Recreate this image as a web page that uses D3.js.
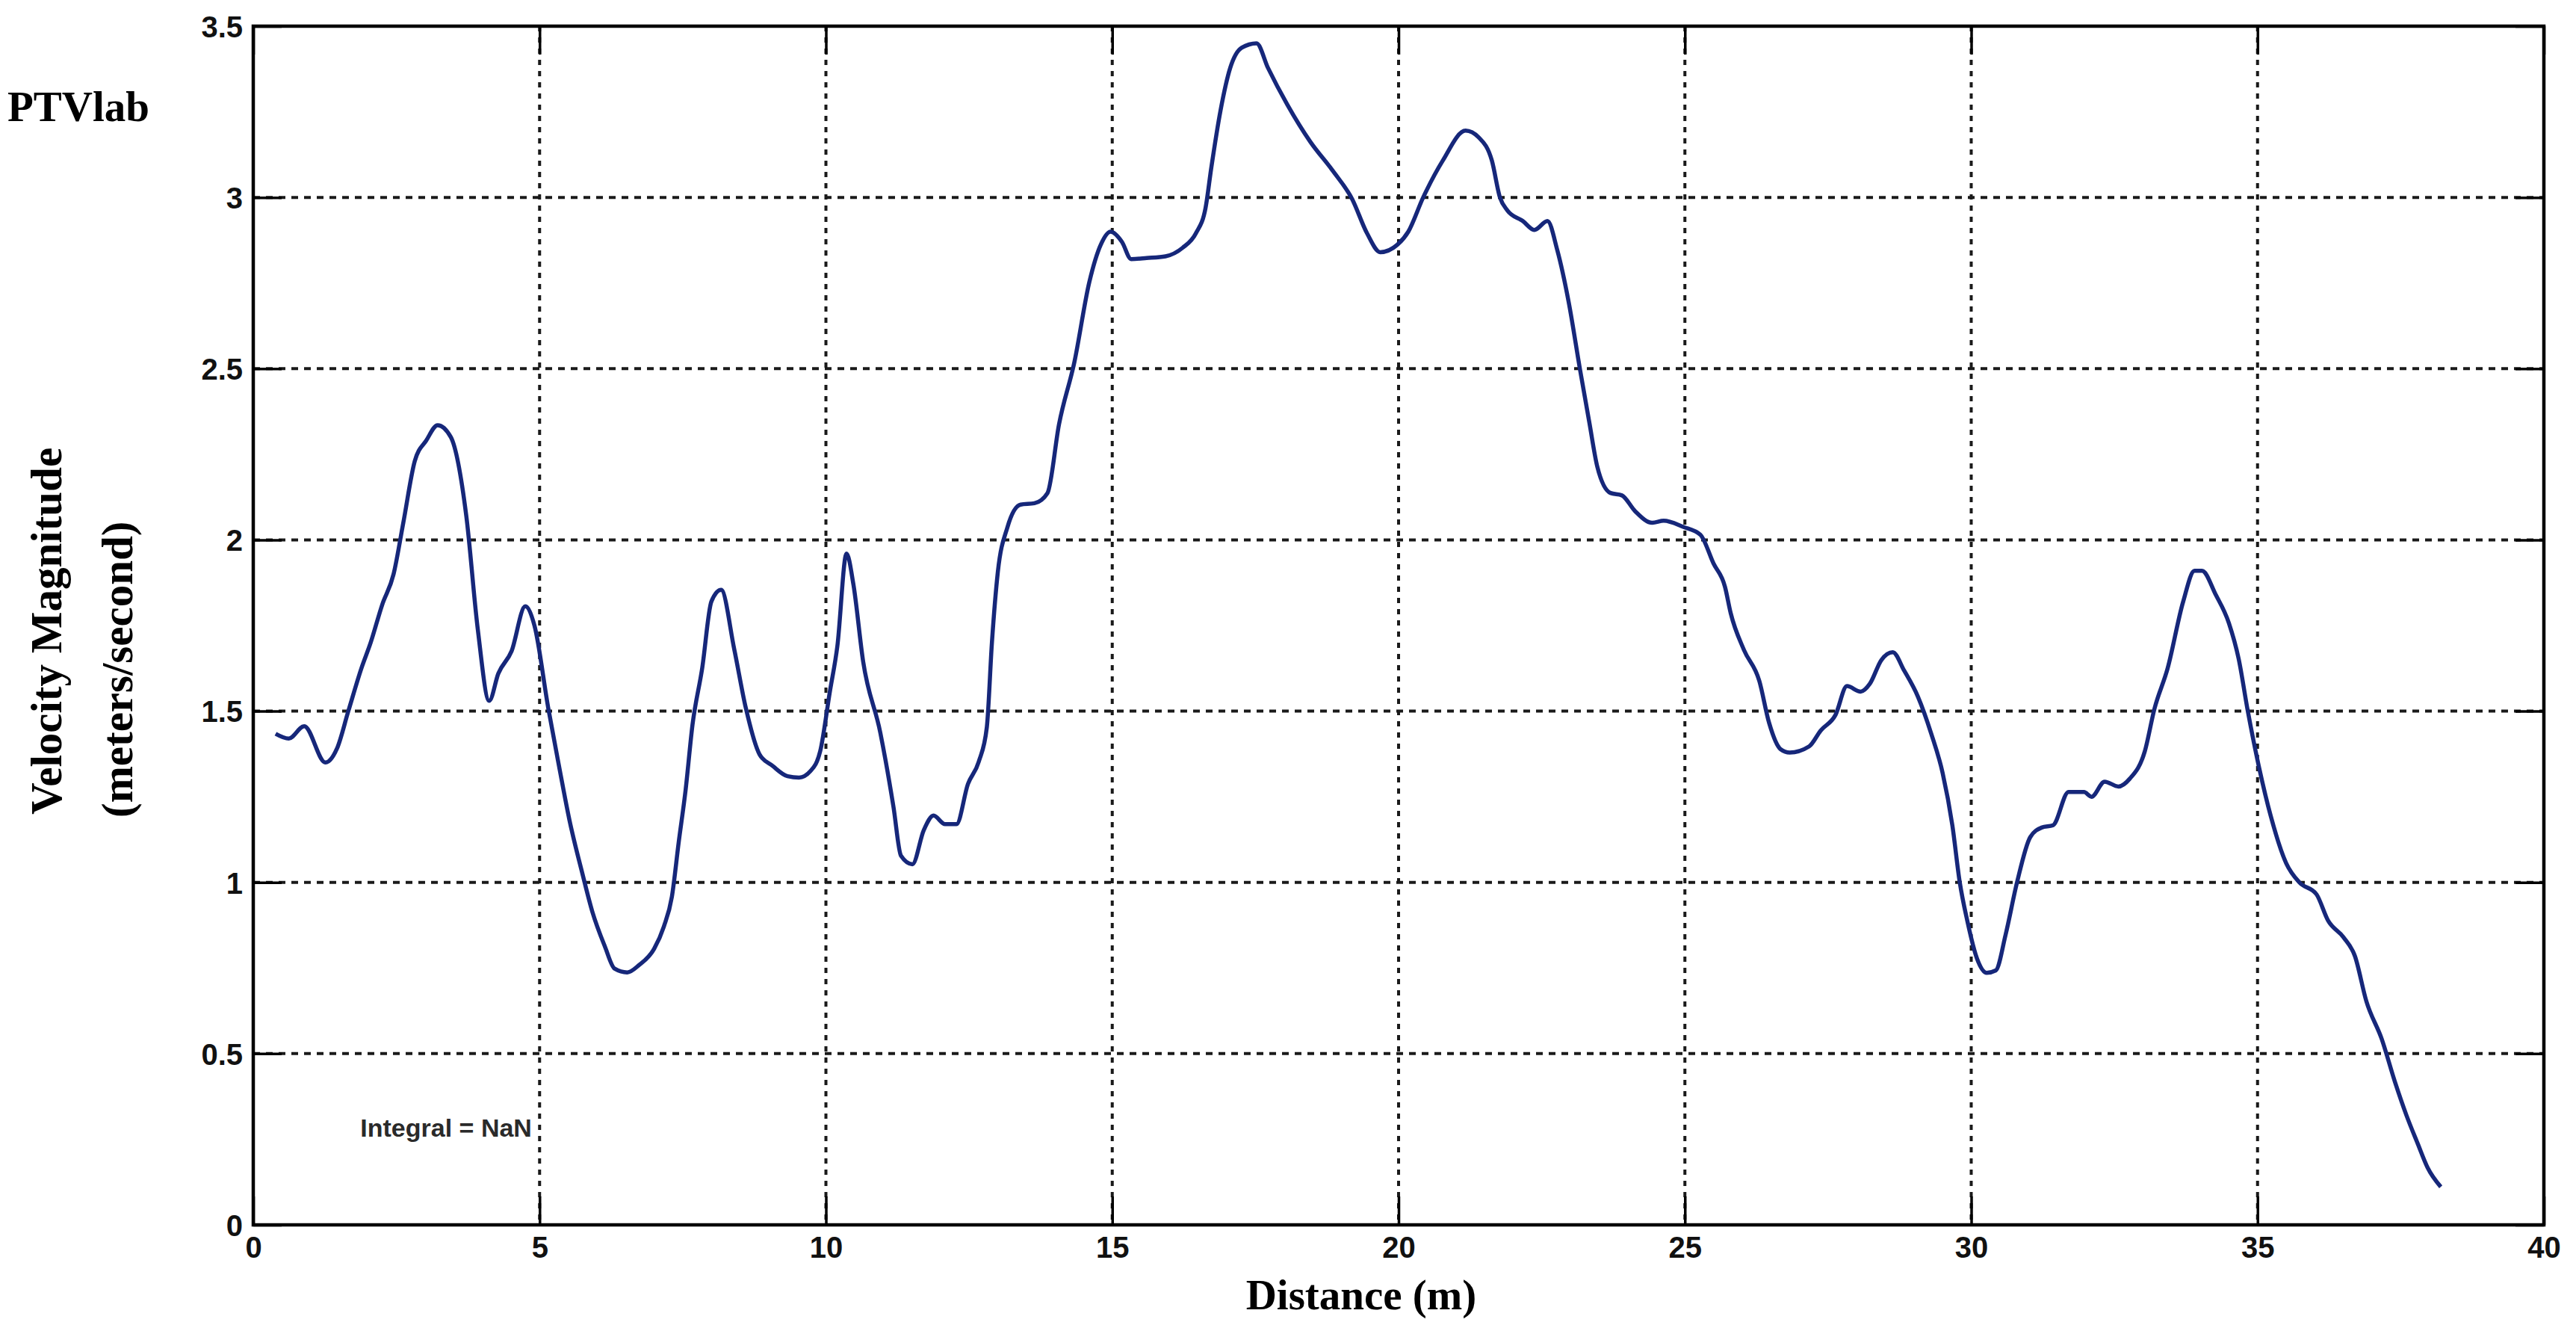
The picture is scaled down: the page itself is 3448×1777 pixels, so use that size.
<!DOCTYPE html>
<html>
<head>
<meta charset="utf-8">
<script src="https://d3js.org/d3.v7.min.js"></script>
<style>
  body { margin: 0; background: #fff; }
  .tick-label { font-family: 'Liberation Sans Narrow', 'Arial Narrow', 'Liberation Sans', sans-serif; font-weight: bold; font-size: 40px; fill: #111; }
  .title { font-family: 'Liberation Serif', 'Times New Roman', serif; font-weight: bold; fill: #000; }
</style>
</head>
<body>
<div id="velocity-plot"></div>
<script>
// distance along the transect (m)
var distance = [
  0.39, 0.62, 0.89, 1.26, 1.46, 1.66, 1.89, 2.05, 2.25, 2.45, 2.62, 2.82, 3.02, 3.22, 3.45, 3.72, 3.92, 4.12, 4.28, 4.51,
  4.75, 4.91, 5.15, 5.35, 5.52, 5.75, 5.92, 6.14, 6.31, 6.53, 6.74, 7.0, 7.17, 7.31, 7.43, 7.55, 7.67, 7.84, 8.0, 8.17,
  8.4, 8.6, 8.84, 9.07, 9.33, 9.53, 9.73, 9.9, 10.07, 10.2, 10.36, 10.48, 10.65, 10.95, 11.18, 11.31, 11.51, 11.71, 11.88, 12.08,
  12.28, 12.48, 12.67, 12.81, 12.9, 13.0, 13.17, 13.4, 13.64, 13.87, 14.07, 14.34, 14.6, 14.8, 14.97, 15.17, 15.33, 15.6, 15.93, 16.23,
  16.46, 16.63, 16.73, 16.89, 17.06, 17.26, 17.52, 17.72, 18.06, 18.46, 18.85, 19.19, 19.45, 19.68, 19.98, 20.17, 20.43, 20.77, 21.17, 21.4,
  21.63, 21.77, 21.9, 22.17, 22.37, 22.6, 22.77, 22.97, 23.17, 23.33, 23.47, 23.7, 23.9, 24.13, 24.43, 24.63, 24.97, 25.27, 25.5, 25.7,
  25.8, 26.03, 26.3, 26.47, 26.67, 26.83, 27.17, 27.37, 27.63, 27.83, 28.07, 28.23, 28.43, 28.63, 28.83, 29.07, 29.3, 29.5, 29.67, 29.8,
  29.93, 30.1, 30.27, 30.43, 30.6, 30.8, 31.03, 31.23, 31.43, 31.7, 31.97, 32.1, 32.33, 32.57, 32.77, 33.03, 33.2, 33.43, 33.7, 33.9,
  34.03, 34.27, 34.5, 34.67, 34.83, 35.03, 35.23, 35.5, 35.73, 36.03, 36.23, 36.5, 36.7, 36.9, 37.17, 37.4, 37.6, 37.8, 37.97, 38.2
];

// velocity magnitude (m/s)
var velocity = [
  1.434, 1.42, 1.456, 1.35, 1.39, 1.50, 1.626, 1.70, 1.81, 1.90, 2.05, 2.23, 2.29, 2.335, 2.30, 2.07, 1.74, 1.53, 1.61, 1.675,
  1.806, 1.75, 1.51, 1.33, 1.183, 1.024, 0.915, 0.813, 0.748, 0.737, 0.759, 0.806, 0.871, 0.958, 1.118, 1.27, 1.46, 1.626, 1.82, 1.854,
  1.68, 1.51, 1.374, 1.34, 1.31, 1.306, 1.325, 1.383, 1.558, 1.69, 1.96, 1.87, 1.645, 1.437, 1.22, 1.078, 1.053, 1.153, 1.195, 1.17,
  1.17, 1.287, 1.353, 1.453, 1.703, 1.903, 2.037, 2.103, 2.107, 2.137, 2.337, 2.52, 2.753, 2.862, 2.90, 2.87, 2.82, 2.823, 2.828, 2.853,
  2.895, 2.97, 3.087, 3.253, 3.378, 3.437, 3.45, 3.378, 3.27, 3.162, 3.078, 2.995, 2.895, 2.84, 2.862, 2.90, 3.0, 3.107, 3.195, 3.175,
  3.107, 3.0, 2.962, 2.931, 2.905, 2.931, 2.847, 2.695, 2.496, 2.344, 2.214, 2.137, 2.13, 2.084, 2.05, 2.056, 2.038, 2.015, 1.931, 1.863,
  1.786, 1.679, 1.588, 1.466, 1.389, 1.379, 1.397, 1.443, 1.489, 1.573, 1.557, 1.58, 1.649, 1.672, 1.618, 1.542, 1.435, 1.32, 1.167, 1.0,
  0.889, 0.778, 0.736, 0.743, 0.847, 1.0, 1.132, 1.16, 1.167, 1.264, 1.264, 1.25, 1.294, 1.28, 1.303, 1.382, 1.507, 1.625, 1.819, 1.91,
  1.91, 1.84, 1.757, 1.653, 1.5, 1.333, 1.194, 1.056, 1.0, 0.965, 0.889, 0.84, 0.785, 0.653, 0.542, 0.417, 0.32, 0.236, 0.167, 0.111
];

var xTicks = [0, 5, 10, 15, 20, 25, 30, 35, 40];
var yTicks = [0, 0.5, 1, 1.5, 2, 2.5, 3, 3.5];
var xTickLabels = ["0", "5", "10", "15", "20", "25", "30", "35", "40"];
var yTickLabels = ["0", "0.5", "1", "1.5", "2", "2.5", "3", "3.5"];

var xTitle = "Distance (m)";
var yTitle1 = "Velocity Magnitude";
var yTitle2 = "(meters/second)";
var tag = "PTVlab";
var note = "Integral = NaN";

function velocityChart() {
    var svgWidth = 3448, svgHeight = 1777;
    var margin = { top: 35, right: 43, bottom: 138, left: 339 };
    var width = svgWidth - margin.left - margin.right;
    var height = svgHeight - margin.top - margin.bottom;

    var root = d3.select("#velocity-plot").append("svg")
        .attr("width", svgWidth)
        .attr("height", svgHeight)
        .style("display", "block");

    root.append("rect")
        .attr("width", svgWidth)
        .attr("height", svgHeight)
        .attr("fill", "#fff");

    var svg = root.append("g")
        .attr("transform", "translate(" + margin.left + "," + margin.top + ")");

    var x = d3.scaleLinear().domain([0, 40]).range([0, width]);
    var y = d3.scaleLinear().domain([0, 3.5]).range([height, 0]);

    // dotted grid (matlab style)
    svg.append("g")
        .attr("class", "grid")
        .selectAll("line")
        .data(xTicks.slice(1, -1))
        .enter().append("line")
        .attr("x1", function(d) { return x(d); })
        .attr("x2", function(d) { return x(d); })
        .attr("y1", 0)
        .attr("y2", height)
        .attr("stroke", "#1a1a1a")
        .attr("stroke-width", 4)
        .attr("stroke-dasharray", "7,8");

    svg.append("g")
        .attr("class", "grid")
        .selectAll("line")
        .data(yTicks.slice(1, -1))
        .enter().append("line")
        .attr("x1", 0)
        .attr("x2", width)
        .attr("y1", function(d) { return y(d); })
        .attr("y2", function(d) { return y(d); })
        .attr("stroke", "#1a1a1a")
        .attr("stroke-width", 4)
        .attr("stroke-dasharray", "9,8");

    // axes, ticks pointing inwards on all four sides
    var tickLen = 38;
    var fmtX = function(d, i) { return xTickLabels[i]; };
    var fmtY = function(d, i) { return yTickLabels[i]; };

    var xAxis = svg.append("g")
        .attr("transform", "translate(0," + height + ")")
        .call(d3.axisBottom(x).tickValues(xTicks).tickFormat(fmtX).tickSizeInner(-tickLen).tickSizeOuter(0).tickPadding(16));
    var yAxis = svg.append("g")
        .call(d3.axisLeft(y).tickValues(yTicks).tickFormat(fmtY).tickSizeInner(-tickLen).tickSizeOuter(0).tickPadding(14));
    var xTop = svg.append("g")
        .call(d3.axisTop(x).tickValues(xTicks).tickFormat("").tickSizeInner(-tickLen).tickSizeOuter(0));
    var yRight = svg.append("g")
        .attr("transform", "translate(" + width + ",0)")
        .call(d3.axisRight(y).tickValues(yTicks).tickFormat("").tickSizeInner(-tickLen).tickSizeOuter(0));

    [xAxis, yAxis, xTop, yRight].forEach(function(a) {
        a.select(".domain").remove();
        a.selectAll(".tick line").attr("stroke", "#000").attr("stroke-width", 3.5);
        a.selectAll("text").attr("class", "tick-label").attr("fill", null);
    });
    xAxis.selectAll("text").attr("dy", "0.71em");
    yAxis.selectAll("text").attr("dy", "0.36em");

    // frame
    svg.append("rect")
        .attr("width", width)
        .attr("height", height)
        .attr("fill", "none")
        .attr("stroke", "#000")
        .attr("stroke-width", 4.5);

    var line = d3.line()
        .x(function(d) { return x(d[0]); })
        .y(function(d) { return y(d[1]); })
        .curve(d3.curveMonotoneX);

    svg.append("path")
        .datum(d3.zip(distance, velocity))
        .attr("fill", "none")
        .attr("stroke", "#16277a")
        .attr("stroke-width", 5.5)
        .attr("stroke-linejoin", "round")
        .attr("d", line);

    svg.append("text")
        .attr("x", x(1.87))
        .attr("y", y(0.258))
        .style("font-family", "'Liberation Sans', Arial, sans-serif")
        .style("font-weight", "bold")
        .style("font-size", "34px")
        .style("fill", "#2a2a2a")
        .text(note);

    // titles
    root.append("text")
        .attr("class", "title")
        .attr("x", 1822)
        .attr("y", 1752)
        .attr("text-anchor", "middle")
        .style("font-size", "57px")
        .text(xTitle);

    root.append("text")
        .attr("class", "title")
        .attr("transform", "translate(82,1090) rotate(-90)")
        .style("font-size", "59px")
        .text(yTitle1);

    root.append("text")
        .attr("class", "title")
        .attr("transform", "translate(177,1094) rotate(-90)")
        .style("font-size", "59px")
        .text(yTitle2);

    root.append("text")
        .attr("class", "title")
        .attr("x", 10)
        .attr("y", 162)
        .style("font-size", "57px")
        .text(tag);
}

velocityChart();
</script>
</body>
</html>
